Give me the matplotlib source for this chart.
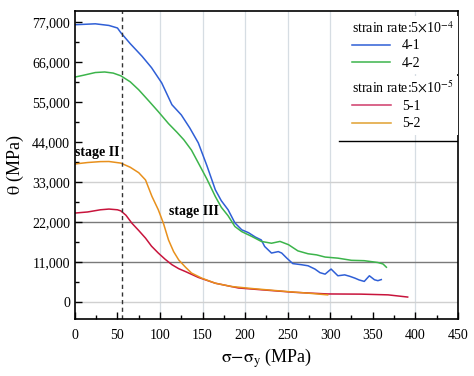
import matplotlib
matplotlib.use("Agg")
import matplotlib.pyplot as plt
from matplotlib.lines import Line2D
from matplotlib.ticker import MultipleLocator

plt.rcParams['font.family'] = ['Liberation Serif', 'DejaVu Serif']
plt.rcParams['mathtext.fontset'] = 'stix'

# curves
x_41 = [0, 10, 24, 40, 50, 54, 65, 79, 90, 102, 114, 125, 135, 145, 155, 165, 172, 180, 188,
        196, 204, 212, 219, 223, 231, 239, 243, 249, 256, 266, 274, 282, 288, 294, 301, 309,
        317, 323, 329, 334, 340, 346, 352, 356, 360]
y_41 = [76200, 76300, 76450, 76000, 75300, 74000, 71000, 67500, 64400, 60200, 54200, 51400,
        47800, 43700, 37500, 30800, 27800, 25300, 21700, 19800, 19000, 17800, 17000, 15200,
        13400, 13800, 13400, 12000, 10500, 10200, 9900, 9000, 8000, 7600, 9000, 7150, 7400,
        7000, 6500, 6000, 5600, 7150, 6050, 5800, 6100]

x_42 = [0, 10, 24, 35, 45, 54, 65, 75, 87, 98, 110, 120, 128, 137, 145, 155, 165, 172, 180,
        188, 196, 208, 219, 231, 241, 251, 262, 274, 284, 294, 309, 325, 340, 356, 362, 366]
y_42 = [61800, 62300, 63050, 63200, 62900, 62150, 60500, 58300, 55200, 52300, 49000, 46600,
        44550, 41700, 38200, 33800, 28950, 26000, 23650, 20700, 19300, 17950, 16600, 16100,
        16600, 15700, 14000, 13200, 12900, 12300, 12000, 11400, 11300, 10800, 10400, 9500]

x_51 = [0, 15, 30, 40, 50, 54, 60, 67, 75, 83, 90, 98, 106, 114, 122, 130, 145, 165, 192,
        219, 258, 297, 336, 368, 391]
y_51 = [24400, 24700, 25300, 25500, 25300, 25000, 23800, 21600, 19600, 17500, 15300, 13400,
        11700, 10200, 9100, 8300, 6700, 5100, 3800, 3300, 2600, 2150, 2100, 1900, 1300]

x_52 = [0, 15, 30, 40, 54, 65, 75, 83, 90.5, 98, 104, 110, 116, 122, 130, 137, 149, 165, 184,
        210, 230, 250, 275, 297]
y_52 = [37900, 38300, 38550, 38580, 38140, 37000, 35500, 33500, 29000, 25300, 21600, 17000,
        13800, 11500, 9500, 7900, 6500, 5100, 4200, 3600, 3200, 2800, 2350, 1900]

y_ticks = [0, 11000, 22000, 33000, 44000, 55000, 66000, 77000]
y_labels = ['0', '11,000', '22,000', '33,000', '44,000', '55,000', '66,000', '77,000']
x_ticks = [0, 50, 100, 150, 200, 250, 300, 350, 400, 450]
stage_line = 55

fig = plt.figure(figsize=(4.74, 3.76), dpi=100)
ax = fig.add_axes([0.158, 0.151, 0.808, 0.820])

# grid lines as in the picture
for xv in [100, 150, 200, 250, 300, 400]:
    ax.axvline(xv, color='#d6dde3', lw=0.9, zorder=0)
for yv, c in [(0, '#d0d0d0'), (11000, '#7a7a7a'), (22000, '#7a7a7a'), (33000, '#d0d0d0')]:
    ax.axhline(yv, color=c, lw=1.0, zorder=0)

ax.plot(x_41, y_41, color='#2f5fd6', lw=1.1)
ax.plot(x_42, y_42, color='#3cb44b', lw=1.1)
ax.plot(x_51, y_51, color='#c8143c', lw=1.1)
ax.plot(x_52, y_52, color='#e8901c', lw=1.1)

ax.axvline(stage_line, color='#333333', lw=1.0, ls=(0, (3, 2.5)))

ax.text(0, 41000, 'stage II', fontsize=10, fontweight='bold', va='center', ha='left')
ax.text(111, 24700, 'stage III', fontsize=10, fontweight='bold', va='center', ha='left')

ax.set_xlim(0, 450)
ax.set_ylim(-4800, 80000)
ax.set_xticks(x_ticks)
ax.set_yticks(y_ticks)
ax.set_yticklabels(y_labels)
ax.xaxis.set_minor_locator(MultipleLocator(25))
ax.yaxis.set_minor_locator(MultipleLocator(5500))
ax.tick_params(which='both', direction='in', top=False, right=False, labelsize=10)
ax.tick_params(which='major', length=5, width=1)
ax.tick_params(which='minor', length=3, width=1)
ax.tick_params(axis='x', pad=7)
for s in ax.spines.values():
    s.set_linewidth(1.2)

ax.set_xlabel(r'$\mathrm{\sigma}$$-$$\mathrm{\sigma_y}$ (MPa)', fontsize=13, labelpad=3)
ax.set_ylabel(r'$\mathrm{\theta}$ (MPa)', fontsize=13, labelpad=4)

# legends
h1 = [Line2D([], [], color='#2f5fd6', lw=1.1), Line2D([], [], color='#3cb44b', lw=1.1)]
h2 = [Line2D([], [], color='#d03a6a', lw=1.1), Line2D([], [], color='#e0a030', lw=1.1)]
kw = dict(loc='upper right', fontsize=10, title_fontsize=10, frameon=True, facecolor='white',
          edgecolor='none', framealpha=1, fancybox=False, handlelength=2.8, handletextpad=0.8,
          borderpad=0.3, labelspacing=0.3, alignment='left', borderaxespad=0)
leg1 = ax.legend(h1, ['4-1', '4-2'], title=r'strain rate:5$\times$10$^{-4}$',
                 bbox_to_anchor=(1.0, 0.985), **kw)
ax.add_artist(leg1)
leg2 = ax.legend(h2, ['5-1', '5-2'], title=r'strain rate:5$\times$10$^{-5}$',
                 bbox_to_anchor=(1.0, 0.79), **kw)
ax.plot([0.69, 1.0], [0.578, 0.578], color='black', lw=1.0, transform=ax.transAxes,
        zorder=6)

fig.savefig('out.png', dpi=100)
